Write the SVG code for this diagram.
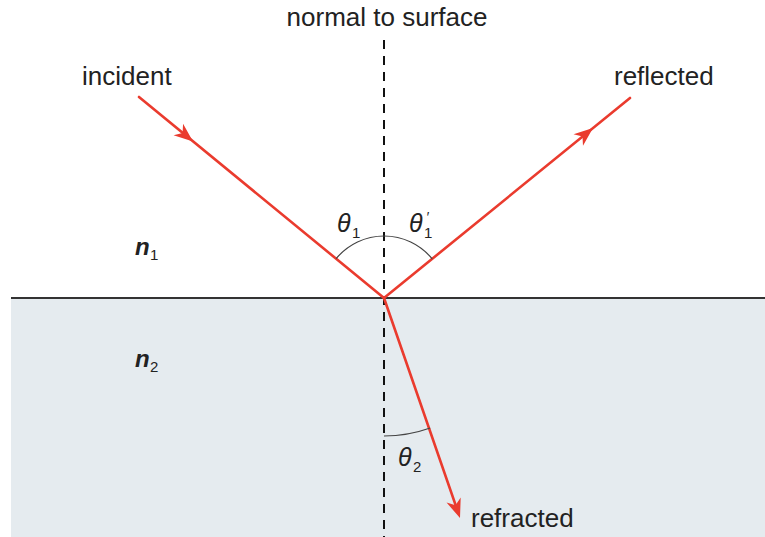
<svg xmlns="http://www.w3.org/2000/svg" width="765" height="537" viewBox="0 0 765 537">
<style>
.lbl{font-family:"Liberation Sans",Arial,sans-serif;font-size:26px;fill:#222}
.sym{font-family:"Liberation Sans",Arial,sans-serif;font-style:italic;fill:#222}
.sub{font-family:"Liberation Sans",Arial,sans-serif;fill:#222;font-size:15px}
.ray{stroke:#ea3b2e;stroke-width:2.6;fill:none;stroke-linecap:round}
.head{fill:#ea3b2e}
.arc{stroke:#444;stroke-width:1.2;fill:none}
</style>
<defs>
<path id="ah" d="M0,0 L-19,-7.5 L-13.5,0 L-19,7.5 Z"/>
</defs>
<rect x="0" y="0" width="765" height="537" fill="#fff"/>
<g id="medium2"><rect x="11" y="298" width="754" height="239" fill="#e5ebef"/></g>
<g id="surface"><line x1="11" y1="298" x2="765" y2="298" stroke="#333" stroke-width="2.2"/></g>
<g id="normal"><line x1="384" y1="40" x2="384" y2="537" stroke="#111" stroke-width="2" stroke-dasharray="9 7"/></g>
<g id="connectors">
<line class="ray" x1="139" y1="97" x2="384" y2="298"/>
<line class="ray" x1="384" y1="298" x2="630" y2="98"/>
<line class="ray" x1="384" y1="298" x2="458" y2="512"/>
<use href="#ah" class="head" transform="translate(193,141.5) rotate(39.4)"/>
<use href="#ah" class="head" transform="translate(593,128) rotate(-39.1)"/>
<use href="#ah" class="head" transform="translate(460,518) rotate(70.4)"/>
</g>
<g id="arcs">
<path class="arc" d="M336.1,258.7 A62,62 0 0 1 384,236"/>
<path class="arc" d="M384,236 A62,62 0 0 1 432.2,258.9"/>
<path class="arc" d="M384,436 A138,138 0 0 0 430.2,428"/>
</g>
<g id="labels">
<text class="lbl" x="387" y="26" text-anchor="middle">normal to surface</text>
<text class="lbl" x="82" y="85">incident</text>
<text class="lbl" x="614" y="85">reflected</text>
<text class="lbl" x="471" y="527">refracted</text>
</g>
<g id="n1"><text class="sym" x="135" y="255" font-size="24" font-weight="bold">n</text><text class="sub" x="150" y="260">1</text></g>
<g id="n2"><text class="sym" x="135" y="367" font-size="24" font-weight="bold">n</text><text class="sub" x="150" y="372">2</text></g>
<g id="theta1"><text class="sym" x="337" y="232" font-size="25">θ</text><text class="sub" x="352" y="238">1</text></g>
<g id="theta1p"><text class="sym" x="409" y="232" font-size="25">θ</text><text class="sub" x="424" y="238">1</text><text class="sym" x="426" y="222" font-size="14">′</text></g>
<g id="theta2"><text class="sym" x="398" y="466" font-size="25">θ</text><text class="sub" x="413" y="472">2</text></g>
</svg>
